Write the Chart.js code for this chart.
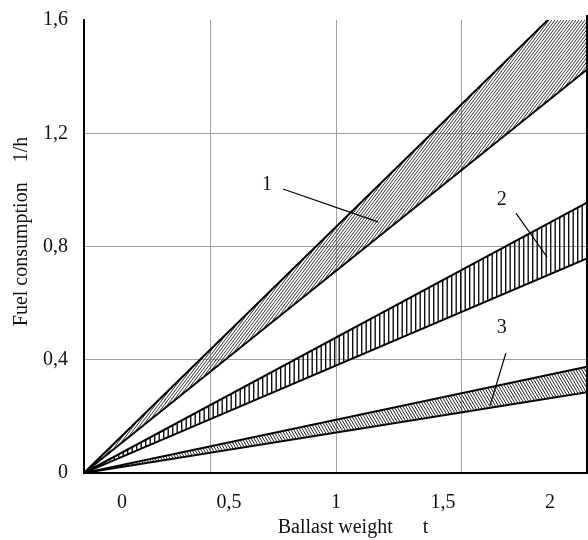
<!DOCTYPE html>
<html>
<head>
<meta charset="utf-8">
<script src="https://cdn.jsdelivr.net/npm/chart.js@4/dist/chart.umd.min.js"></script>
<style>
  html, body { margin: 0; padding: 0; background: #fff; }
  #wrap { width: 588px; height: 540px; }
</style>
</head>
<body>
<div id="wrap"><canvas id="fuelChart" width="588" height="540"></canvas></div>
<script>
// Fuel consumption vs ballast weight: three hatched bands fanning out from the origin

// x range of the frame (t) and where the bands end on the right edge (l/h)
const xStart = -0.178;
const xEnd = 2.173;
const bandNames = ['1', '2', '3'];
const upperEnd = [1.735, 0.955, 0.375];
const lowerEnd = [1.425, 0.758, 0.285];

// axis ticks
const xTickValues = [0, 0.5, 1, 1.5, 2];
const xTickLabels = ['0', '0,5', '1', '1,5', '2'];
const xGridValues = [0.411, 1, 1.585];
const yTickValues = [0, 0.4, 0.8, 1.2, 1.6];
const yTickLabels = ['0', '0,4', '0,8', '1,2', '1,6'];
const yGridValues = [0.4, 0.8, 1.2];

// callout numbers and their leader lines (data units)
const calloutText = [[0.677, 1.017], [1.775, 0.964], [1.775, 0.512]];
const calloutFrom = [[0.752, 1.003], [1.841, 0.918], [1.794, 0.424]];
const calloutTo = [[1.196, 0.887], [1.986, 0.763], [1.719, 0.237]];

const FONT = "'Liberation Serif', 'Times New Roman', serif";

// hatch patterns for the three bands
function makePattern(kind) {
  const c = document.createElement('canvas');
  const g = c.getContext('2d');
  if (kind === 'slash') {
    c.width = 3; c.height = 4;
    g.strokeStyle = '#333';
    g.lineWidth = 1;
    for (let k = -1; k <= 1; k++) {
      g.beginPath();
      g.moveTo(k * 3, 4);
      g.lineTo(k * 3 + 3, 0);
      g.stroke();
    }
  } else if (kind === 'vertical') {
    c.width = 9; c.height = 4;
    g.fillStyle = '#111';
    g.fillRect(1, 0, 1.4, 4);
    g.fillRect(5.5, 0, 1.4, 4);
  } else {
    c.width = 3; c.height = 5;
    g.strokeStyle = '#222';
    g.lineWidth = 1;
    for (let k = -1; k <= 1; k++) {
      g.beginPath();
      g.moveTo(k * 3, 0);
      g.lineTo(k * 3 + 3, 5);
      g.stroke();
    }
  }
  return g.createPattern(c, 'repeat');
}
const patterns = [makePattern('slash'), makePattern('vertical'), makePattern('backslash')];

const datasets = [];
bandNames.forEach((name, i) => {
  datasets.push({
    label: 'Band ' + name + ' upper',
    data: [{ x: xStart, y: 0 }, { x: xEnd, y: upperEnd[i] }],
    borderColor: '#000',
    borderWidth: 2,
    backgroundColor: patterns[i],
    fill: '+1',
    pointRadius: 0,
    tension: 0
  });
  datasets.push({
    label: 'Band ' + name + ' lower',
    data: [{ x: xStart, y: 0 }, { x: xEnd, y: lowerEnd[i] }],
    borderColor: '#000',
    borderWidth: 2,
    fill: false,
    pointRadius: 0,
    tension: 0
  });
});

// right frame line + numbered callouts
const extras = {
  id: 'extras',
  afterDatasetsDraw(chart) {
    const { ctx, chartArea, scales } = chart;
    const sx = scales.x, sy = scales.y;
    ctx.save();
    ctx.strokeStyle = '#000';
    ctx.lineWidth = 1.2;
    calloutFrom.forEach((p, i) => {
      ctx.beginPath();
      ctx.moveTo(sx.getPixelForValue(p[0]), sy.getPixelForValue(p[1]));
      ctx.lineTo(sx.getPixelForValue(calloutTo[i][0]), sy.getPixelForValue(calloutTo[i][1]));
      ctx.stroke();
    });
    ctx.fillStyle = '#111';
    ctx.font = '20px ' + FONT;
    ctx.textAlign = 'center';
    ctx.textBaseline = 'middle';
    calloutText.forEach((p, i) => {
      ctx.fillText(bandNames[i], sx.getPixelForValue(p[0]), sy.getPixelForValue(p[1]));
    });
    ctx.lineWidth = 2;
    ctx.beginPath();
    ctx.moveTo(chartArea.right, chartArea.top - 5);
    ctx.lineTo(chartArea.right, chartArea.bottom);
    ctx.stroke();
    ctx.restore();
  }
};

new Chart(document.getElementById('fuelChart'), {
  type: 'line',
  data: { datasets: datasets },
  options: {
    responsive: false,
    animation: false,
    layout: { padding: { top: 20, right: 1, left: 0, bottom: 0 } },
    plugins: { legend: { display: false }, tooltip: { enabled: false } },
    scales: {
      x: {
        type: 'linear',
        min: xStart,
        max: xEnd,
        afterBuildTicks(scale) {
          const vals = xTickValues.concat(xGridValues.filter(v => !xTickValues.includes(v)));
          scale.ticks = vals.sort((a, b) => a - b).map(v => ({ value: v }));
        },
        afterFit(scale) {
          scale.height = 67;
          scale.paddingLeft = 0;
          scale.paddingRight = 0;
        },
        ticks: {
          autoSkip: false,
          maxRotation: 0,
          padding: 18,
          color: '#111',
          font: { family: FONT, size: 20 },
          callback: (v) => {
            const i = xTickValues.indexOf(v);
            return i >= 0 ? xTickLabels[i] : '';
          }
        },
        grid: {
          drawTicks: false,
          lineWidth: 1,
          color: (c) => (c.tick && xGridValues.includes(c.tick.value)) ? '#a0a0a0' : 'rgba(0,0,0,0)'
        },
        border: { color: '#000', width: 2 },
        title: {
          display: true,
          text: '\u00a0\u00a0\u00a0\u00a0\u00a0\u00a0\u00a0Ballast weight\u00a0\u00a0\u00a0\u00a0\u00a0\u00a0t',
          color: '#111',
          font: { family: FONT, size: 20 },
          padding: { top: 0, bottom: 0 }
        }
      },
      y: {
        type: 'linear',
        min: 0,
        max: 1.6,
        afterBuildTicks(scale) {
          scale.ticks = yTickValues.map(v => ({ value: v }));
        },
        afterFit(scale) {
          scale.width = 84;
          scale.paddingTop = 0;
          scale.paddingBottom = 0;
        },
        ticks: {
          padding: 16,
          color: '#111',
          font: { family: FONT, size: 20 },
          callback: (v) => {
            const i = yTickValues.indexOf(v);
            return i >= 0 ? yTickLabels[i] : '';
          }
        },
        grid: {
          drawTicks: false,
          lineWidth: 1,
          color: (c) => (c.tick && yGridValues.includes(c.tick.value)) ? '#a0a0a0' : 'rgba(0,0,0,0)'
        },
        border: { color: '#000', width: 2 },
        title: {
          display: true,
          text: '\u00a0\u00a0\u00a0\u00a0\u00a0\u00a0Fuel consumption\u00a0\u00a0\u00a0\u00a01/h',
          color: '#111',
          font: { family: FONT, size: 20 },
          padding: { top: 10, bottom: 0 }
        }
      }
    }
  },
  plugins: [extras]
});
</script>
</body>
</html>
